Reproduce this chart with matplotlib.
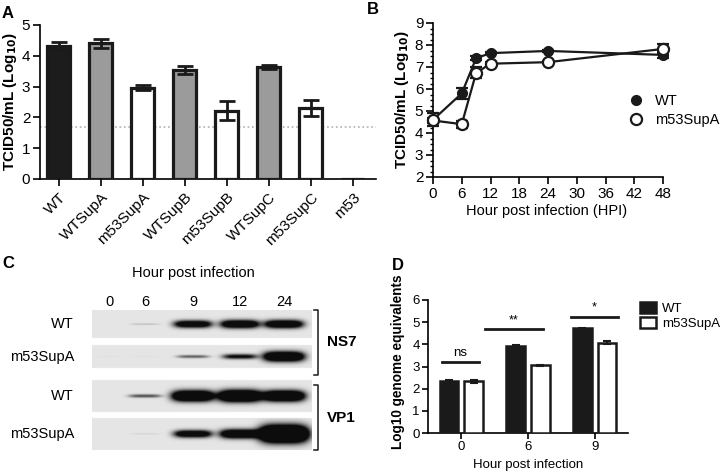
import numpy as np
import matplotlib
matplotlib.use("Agg")
import matplotlib.pyplot as plt
from matplotlib.lines import Line2D
from matplotlib.ticker import MultipleLocator

plt.rcParams['font.family'] = ['Liberation Sans', 'DejaVu Sans']
plt.rcParams['axes.linewidth'] = 1.2
plt.rcParams['xtick.major.width'] = 1.2
plt.rcParams['ytick.major.width'] = 1.2

# ---- panel A: titres of each virus
a_names = ['WT', 'WTSupA', 'm53SupA', 'WTSupB', 'm53SupB', 'WTSupC', 'm53SupC', 'm53']
a_vals = [4.32, 4.40, 2.97, 3.55, 2.22, 3.63, 2.30, 0.0]
a_err = [0.12, 0.15, 0.07, 0.13, 0.30, 0.07, 0.25, np.nan]
a_fill = ['#1c1c1c', '#9b9b9b', 'white', '#9b9b9b', 'white', '#9b9b9b', 'white', 'white']
a_limit = 1.7  # detection limit

# ---- panel B: growth curve
b_hours = [0, 6, 9, 12, 24, 48]
b_wt = [4.60, 5.80, 7.40, 7.63, 7.73, 7.55]
b_wt_err = [0.30, 0.25, 0.08, 0.06, 0.05, 0.15]
b_mut = [4.57, 4.40, 6.73, 7.15, 7.22, 7.82]
b_mut_err = [0.10, 0.15, 0.25, 0.08, 0.05, 0.22]

# ---- panel C: western blot band intensities (hours 0,6,9,12,24)
c_hours = ['0', '6', '9', '12', '24']
c_rows = ['WT', 'm53SupA', 'WT', 'm53SupA']
c_wt_ns7 = [0.0, 0.12, 1.0, 1.1, 1.1]
c_mut_ns7 = [0.02, 0.02, 0.40, 0.70, 1.30]
c_wt_vp1 = [0.0, 0.45, 1.40, 1.50, 1.40]
c_mut_vp1 = [0.0, 0.06, 1.0, 1.20, 2.0]

# ---- panel D: genome equivalents
d_hours = ['0', '6', '9']
d_wt = [2.33, 3.93, 4.72]
d_wt_err = [0.04, 0.05, 0.03]
d_mut = [2.33, 3.05, 4.07]
d_mut_err = [0.07, 0.02, 0.07]
d_sig = ['ns', '**', '*']
d_sig_y = [3.2, 4.67, 5.24]

W, H = 720, 472
fig = plt.figure(figsize=(7.2, 4.72), dpi=100)


def box(x0, y0, x1, y1):
    # pixel box (top-left origin) -> figure fraction rect
    return [x0 / W, 1 - y1 / H, (x1 - x0) / W, (y1 - y0) / H]


def ftext(x, y, s, **kw):
    fig.text(x / W, 1 - y / H, s, **kw)


# ================= A =================
axA = fig.add_axes(box(40, 25, 376, 179))
xa = np.arange(len(a_names))
axA.bar(xa, a_vals, width=0.55, color=a_fill, edgecolor='#1a1a1a', linewidth=2.3, zorder=3)
axA.errorbar(xa, a_vals, yerr=a_err, fmt='none', ecolor='#1a1a1a', elinewidth=2, capsize=6, capthick=2, zorder=4)
axA.axhline(a_limit, color='#b0b0b0', linestyle=':', linewidth=1.2, zorder=1)
axA.set_xlim(-0.45, 7.55)
axA.set_ylim(0, 5)
axA.set_yticks(range(6))
axA.set_xticks(xa)
axA.set_xticklabels(a_names, rotation=45, ha='right', rotation_mode='anchor', fontsize=11)
axA.tick_params(axis='y', labelsize=11, length=5, pad=2)
axA.tick_params(axis='x', length=5, pad=3)
for s in ['top', 'right']:
    axA.spines[s].set_visible(False)
ftext(10, 102, 'TCID50/mL (Log$_{\\mathbf{10}}$)', rotation=90, ha='center', va='center',
      fontsize=11, fontweight='bold')
ftext(2, 14, 'A', fontsize=12, fontweight='bold', va='center')

# ================= B =================
axB = fig.add_axes(box(433, 23, 663, 177))
axB.errorbar(b_hours, b_wt, yerr=b_wt_err, color='#1a1a1a', lw=1.6, marker='o', ms=7,
             mfc='#1a1a1a', mec='#1a1a1a', capsize=4, elinewidth=1.6, capthick=1.6,
             clip_on=False, zorder=4)
axB.errorbar(b_hours, b_mut, yerr=b_mut_err, color='#1a1a1a', lw=1.6, marker='o', ms=8,
             mfc='white', mec='#1a1a1a', mew=1.6, capsize=4, elinewidth=1.6, capthick=1.6,
             clip_on=False, zorder=5)
axB.set_xlim(0, 48)
axB.set_ylim(2, 9)
axB.set_xticks(range(0, 49, 6))
axB.set_yticks(range(2, 10))
axB.yaxis.set_minor_locator(MultipleLocator(0.25))
axB.tick_params(axis='both', labelsize=11, length=5, pad=2)
axB.tick_params(axis='y', which='minor', length=2.5, width=1)
for s in ['top', 'right']:
    axB.spines[s].set_visible(False)
hb = [Line2D([], [], ls='none', marker='o', ms=7, mfc='#1a1a1a', mec='#1a1a1a'),
      Line2D([], [], ls='none', marker='o', ms=8, mfc='white', mec='#1a1a1a', mew=1.6)]
axB.legend(hb, ['WT', 'm53SupA'], loc='center left', bbox_to_anchor=(0.857, 0.43),
           borderpad=0, borderaxespad=0, frameon=False, fontsize=10.5,
           handlelength=0.8, handletextpad=0.9, labelspacing=0.35)
ftext(402, 100, 'TCID50/mL (Log$_{\\mathbf{10}}$)', rotation=90, ha='center', va='center',
      fontsize=11, fontweight='bold')
ftext(547, 211, 'Hour post infection (HPI)', ha='center', va='center', fontsize=10.5)
ftext(367, 9, 'B', fontsize=12, fontweight='bold', va='center')

# ================= C =================
# blot area in pixel units, (0,0) is top-left of the first strip
axC = fig.add_axes(box(92, 310, 312, 450))
cw, ch = 220, 140
lane_x = [18, 53, 101, 148, 192]
strips = [(0, 28), (35, 58), (70, 102), (108, 140)]
bands = [c_wt_ns7, c_mut_ns7, c_wt_vp1, c_mut_vp1]
gx = np.linspace(0, cw, cw * 3)
gy = np.linspace(0, ch, ch * 3)
XX, YY = np.meshgrid(gx, gy)
img = np.ones_like(XX)
for (y0, y1), row in zip(strips, bands):
    inside = (YY >= y0) & (YY <= y1)
    dark = np.zeros_like(XX)
    yc = (y0 + y1) / 2
    for xc, inten in zip(lane_x, row):
        if inten <= 0:
            continue
        hw = 14 + 5 * inten
        hh = 0.6 + 3 * inten ** 1.3
        prof = np.exp(-(np.abs(XX - xc) / hw) ** 4 - ((YY - yc) / hh) ** 2)
        dark += 1.6 * inten * prof
    strip = 0.9 * (1 - np.clip(dark, 0, 1)) + 0.05 * np.clip(dark, 0, 1)
    img = np.where(inside, strip, img)
axC.imshow(img, cmap='gray', vmin=0, vmax=1, extent=(0, cw, ch, 0), aspect='auto',
           interpolation='bilinear')
axC.set_xlim(0, cw)
axC.set_ylim(ch, 0)
axC.axis('off')
for xc, lab in zip(lane_x, c_hours):
    axC.text(xc, -8, lab, ha='center', va='center', fontsize=10.5, clip_on=False)
axC.text(101, -37, 'Hour post infection', ha='center', va='center', fontsize=10.5, clip_on=False)
for (y0, y1), lab in zip(strips, c_rows):
    axC.text(-18, (y0 + y1) / 2, lab, ha='right', va='center', fontsize=10.5, clip_on=False)
for (y0, y1), lab in [((0, 65), 'NS7'), ((75, 140), 'VP1')]:
    axC.plot([222, 226, 226, 222], [y0, y0, y1, y1], color='#1a1a1a', lw=1.1, clip_on=False)
    axC.text(235, (y0 + y1) / 2, lab, ha='left', va='center', fontsize=11,
             fontweight='bold', clip_on=False)
ftext(2, 263, 'C', fontsize=12, fontweight='bold', va='center')

# ================= D =================
axD = fig.add_axes(box(428, 300, 628, 433))
xd = np.arange(len(d_hours))
bw = 0.28
axD.bar(xd - 0.185, d_wt, width=bw, color='#1a1a1a', edgecolor='#1a1a1a', linewidth=1.8,
        label='WT', zorder=3)
axD.bar(xd + 0.185, d_mut, width=bw, color='white', edgecolor='#1a1a1a', linewidth=1.8,
        label='m53SupA', zorder=3)
axD.errorbar(xd - 0.185, d_wt, yerr=d_wt_err, fmt='none', ecolor='#1a1a1a', elinewidth=1.5,
             capsize=3, capthick=1.5, zorder=4)
axD.errorbar(xd + 0.185, d_mut, yerr=d_mut_err, fmt='none', ecolor='#1a1a1a', elinewidth=1.5,
             capsize=3, capthick=1.5, zorder=4)
sig_x0 = [-0.29, -0.65, -0.36]
sig_x1 = [0.26, 0.23, 0.35]
for i, (lab, yv) in enumerate(zip(d_sig, d_sig_y)):
    axD.plot([i + sig_x0[i], i + sig_x1[i]], [yv, yv], color='#1a1a1a', lw=2, clip_on=False)
    axD.text(i + (sig_x0[i] + sig_x1[i]) / 2, yv + 0.15, lab, ha='center', va='bottom',
             fontsize=9.5 if lab == 'ns' else 9)
axD.set_xlim(-0.5, 2.5)
axD.set_ylim(0, 6)
axD.set_xticks(xd)
axD.set_xticklabels(d_hours)
axD.set_yticks(range(7))
axD.tick_params(axis='both', labelsize=9.5, length=4, pad=2)
for s in ['top', 'right']:
    axD.spines[s].set_visible(False)
axD.legend(loc='upper left', bbox_to_anchor=(1.06, 0.985), borderpad=0, borderaxespad=0,
           frameon=False, fontsize=9.5, handlelength=1.2, handleheight=0.9,
           handletextpad=0.5, labelspacing=0.15)
ftext(398, 362, 'Log10 genome equivalents', rotation=90, ha='center', va='center',
      fontsize=9.8, fontweight='bold')
ftext(528, 465, 'Hour post infection', ha='center', va='center', fontsize=9.5)
ftext(392, 265, 'D', fontsize=12, fontweight='bold', va='center')

fig.savefig('out.png', dpi=100)
